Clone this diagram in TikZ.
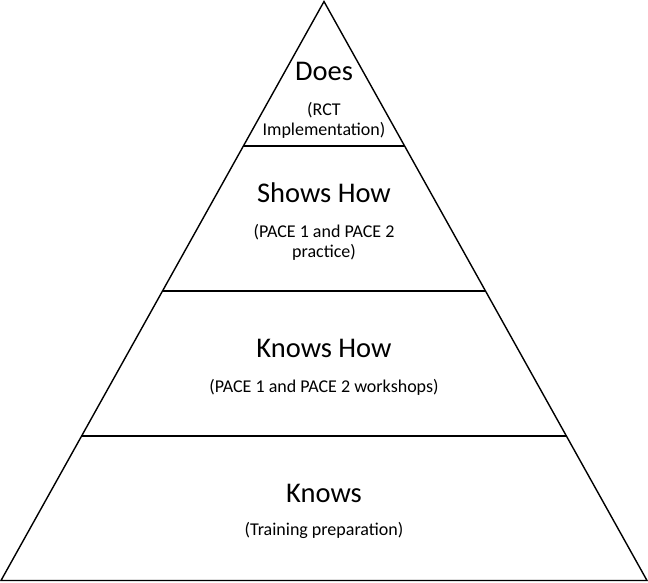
\documentclass[tikz,border=0pt]{standalone}
\usepackage{fontspec}
\setmainfont{Carlito}
\usetikzlibrary{calc}
\begin{document}
\begin{tikzpicture}[x=1pt,y=-1pt,
  edge/.style={line width=1.4pt,black,line join=miter},
  title/.style={anchor=base,inner sep=0pt,font=\fontsize{28.5}{34}\selectfont},
  sub/.style={anchor=base,inner sep=0pt,font=\fontsize{18}{21}\selectfont}]
\useasboundingbox (0,0) rectangle (648,582);
\coordinate (apex) at (324,1.5);
\coordinate (bl) at (1,580.5);
\coordinate (br) at (647,580.5);
\draw[edge] (apex) -- (bl) -- (br) -- cycle;
\coordinate (l1) at ($(apex)!0.2496!(bl)$);
\coordinate (r1) at ($(apex)!0.2496!(br)$);
\coordinate (l2) at ($(apex)!0.5!(bl)$);
\coordinate (r2) at ($(apex)!0.5!(br)$);
\coordinate (l3) at ($(apex)!0.7504!(bl)$);
\coordinate (r3) at ($(apex)!0.7504!(br)$);
\draw[edge] (l1) -- (r1);
\draw[edge] (l2) -- (r2);
\draw[edge] (l3) -- (r3);
\node[title] (does) at (324,80) {Does};
\node[sub] (does1) at (324,115) {(RCT};
\node[sub] (does2) at (324,135) {Implementation)};
\node[title] (shows) at (324,202) {Shows How};
\node[sub] (shows1) at (324,237) {(PACE 1 and PACE 2};
\node[sub] (shows2) at (324,257) {practice)};
\node[title] (knowshow) at (324,357) {Knows How};
\node[sub] (knowshow1) at (324,392) {(PACE 1 and PACE 2 workshops)};
\node[title] (knows) at (324,502) {Knows};
\node[sub] (knows1) at (324,535) {(Training preparation)};
\end{tikzpicture}
\end{document}
